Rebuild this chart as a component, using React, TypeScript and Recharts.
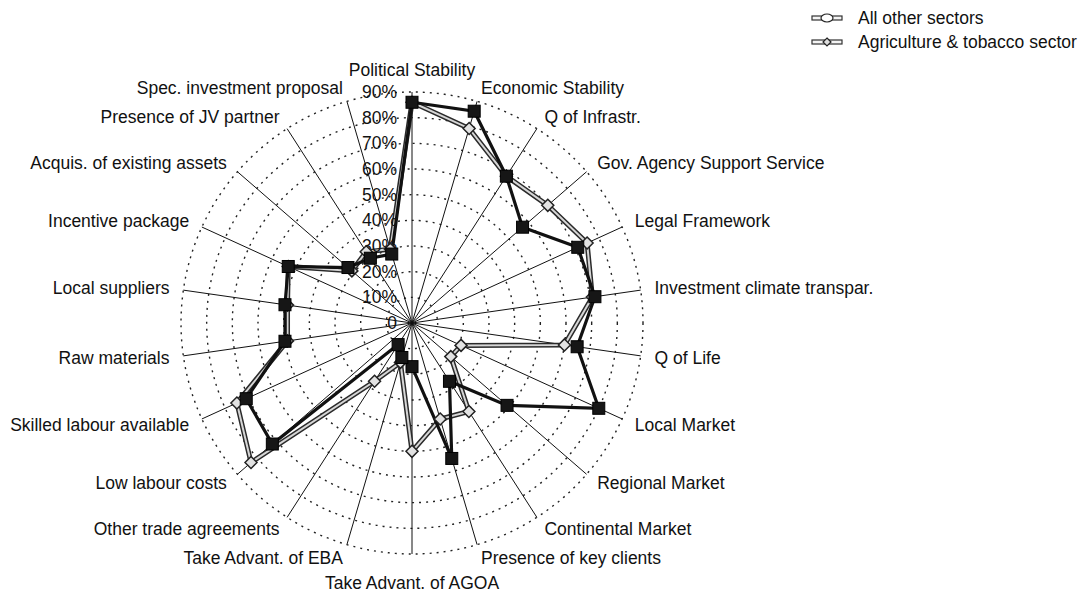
import React from "react";
import {
  RadarChart,
  Radar,
  PolarGrid,
  PolarAngleAxis,
  PolarRadiusAxis,
  Legend,
} from "recharts";

// location factors, clockwise from the top
const factors = [
  "Political Stability",
  "Economic Stability",
  "Q of Infrastr.",
  "Gov. Agency Support Service",
  "Legal Framework",
  "Investment climate transpar.",
  "Q of Life",
  "Local Market",
  "Regional Market",
  "Continental Market",
  "Presence of key clients",
  "Take Advant. of AGOA",
  "Take Advant. of EBA",
  "Other trade agreements",
  "Low labour costs",
  "Skilled labour available",
  "Raw materials",
  "Local suppliers",
  "Incentive package",
  "Acquis. of existing assets",
  "Presence of JV partner",
  "Spec. investment proposal",
];

// % of firms rating the factor important
const allOtherSectors = [86, 86, 68, 57, 71, 72, 65, 80, 49, 27, 55, 17, 14, 10, 72, 71, 50, 50, 53, 33, 30, 28];
const agricultureTobacco = [86, 79, 68, 70, 75, 71, 60, 21, 20, 41, 39, 50, 16, 27, 83, 75, 49, 49, 53, 31, 33, 30];

const radiusTicks = [0, 10, 20, 30, 40, 50, 60, 70, 80, 90];
const legendOrder = ["All other sectors", "Agriculture & tobacco sector"];

const data = factors.map((f, i) => ({
  factor: f,
  other: allOtherSectors[i],
  agri: agricultureTobacco[i],
}));

const W = 1089;
const H = 592;
const CX = 412;
const CY = 323;
const R = 231;
const FONT = '"Liberation Sans", Arial, Helvetica, sans-serif';
const FS = 17.5;

function AngleTick(props: any) {
  const { x, y, payload } = props;
  const dx = x - CX;
  const dy = y - CY;
  const d = Math.hypot(dx, dy) || 1;
  const ux = dx / d;
  const uy = dy / d;
  const tx = CX + ux * (R + 14);
  let ty = CY + uy * (R + 14);
  const anchor = Math.abs(ux) < 0.05 ? "middle" : ux > 0 ? "start" : "end";
  if (anchor === "middle") ty += uy > 0 ? 15 : -8;
  return (
    <text x={tx} y={ty} textAnchor={anchor} dominantBaseline="central" fontSize={FS} fontFamily={FONT} fill="#111">
      {payload.value}
    </text>
  );
}

function RadiusTick(props: any) {
  const { x, y, payload } = props;
  return (
    <text x={x - 15} y={y} textAnchor="end" dominantBaseline="central" fontSize={FS} fontFamily={FONT} fill="#111">
      {payload.value === 0 ? "0" : `${payload.value}%`}
    </text>
  );
}

function SquareDot(p: any) {
  if (p.cx == null || p.cy == null) return <g key={`sq-${p.index}`} />;
  return <rect key={`sq-${p.index}`} x={p.cx - 6} y={p.cy - 6} width={12} height={12} fill="#161616" stroke="#000" strokeWidth={1} />;
}

function DiamondDot(p: any) {
  if (p.cx == null || p.cy == null) return <g key={`dm-${p.index}`} />;
  const s = 6;
  const { cx, cy } = p;
  return (
    <path
      key={`dm-${p.index}`}
      d={`M${cx},${cy - s}L${cx + s},${cy}L${cx},${cy + s}L${cx - s},${cy}Z`}
      fill="#e2e2e2"
      stroke="#222"
      strokeWidth={1.5}
    />
  );
}

function LegendContent(props: any) {
  const items = (props.payload || [])
    .filter((p: any) => p.type !== "none")
    .slice()
    .sort((a: any, b: any) => legendOrder.indexOf(a.value) - legendOrder.indexOf(b.value));
  return (
    <div style={{ fontFamily: FONT, fontSize: FS, color: "#111" }}>
      {items.map((p: any, i: number) => (
        <div key={i} style={{ display: "flex", alignItems: "center", height: 24 }}>
          <svg width={47} height={12} style={{ flex: "none" }}>
            <rect x={1} y={4} width={30} height={4} fill="#f4f4f4" stroke="#333" strokeWidth={1.2} />
            {i === 0 ? (
              <ellipse cx={16} cy={6} rx={6} ry={4} fill="#fff" stroke="#222" strokeWidth={1.2} />
            ) : (
              <path d="M16,2L20,6L16,10L12,6Z" fill="#ddd" stroke="#222" strokeWidth={1.2} />
            )}
          </svg>
          <span>{p.value}</span>
        </div>
      ))}
    </div>
  );
}

export default function App() {
  return (
    <div style={{ width: W, height: H, background: "#fff" }}>
      <style>{"body{margin:0}"}</style>
      <RadarChart
        width={W}
        height={H}
        data={data}
        cx={CX}
        cy={CY}
        outerRadius={R}
        margin={{ top: 0, right: 0, bottom: 0, left: 0 }}
      >
        <PolarGrid gridType="circle" radialLines={false} stroke="#222" strokeWidth={1.4} strokeDasharray="2 5" />
        <PolarGrid gridType="circle" polarRadius={[0]} stroke="#111" strokeWidth={1} />
        <PolarAngleAxis dataKey="factor" tick={AngleTick} tickLine={false} axisLine={false} />
        <PolarRadiusAxis
          angle={90}
          domain={[0, 90]}
          ticks={radiusTicks}
          tickCount={10}
          tick={RadiusTick}
          tickLine={false}
          axisLine={false}
        />
        <Radar
          dataKey="agri"
          stroke="#2a2a2a"
          strokeWidth={5}
          fill="none"
          fillOpacity={0}
          dot={false}
          legendType="none"
          isAnimationActive={false}
        />
        <Radar
          name="Agriculture & tobacco sector"
          dataKey="agri"
          stroke="#d6d6d6"
          strokeWidth={2}
          fill="none"
          fillOpacity={0}
          dot={DiamondDot}
          isAnimationActive={false}
        />
        <Radar
          name="All other sectors"
          dataKey="other"
          stroke="#111"
          strokeWidth={3.2}
          fill="none"
          fillOpacity={0}
          dot={SquareDot}
          isAnimationActive={false}
        />
        <Legend
          layout="vertical"
          align="center"
          verticalAlign="top"
          content={LegendContent}
          wrapperStyle={{ top: 6, left: 811, width: 278 }}
        />
      </RadarChart>
    </div>
  );
}
